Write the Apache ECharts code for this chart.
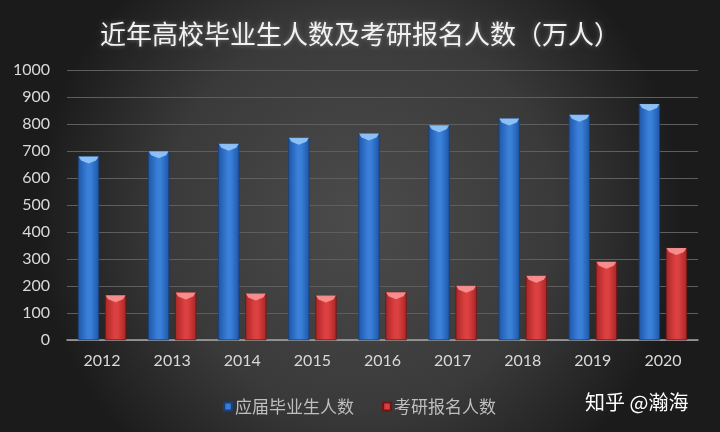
<!DOCTYPE html>
<html><head><meta charset="utf-8">
<script src="https://cdn.jsdelivr.net/npm/echarts@6/dist/echarts.min.js"></script>
<style>html,body{margin:0;padding:0;background:#2a2a2a}#c{width:720px;height:432px}</style>
</head><body><div id="c"></div>
<script>
const years = ['2012','2013','2014','2015','2016','2017','2018','2019','2020'];
const graduates = [680, 699, 727, 749, 765, 795, 820, 834, 874];
const applicants = [166, 176, 172, 165, 177, 201, 238, 290, 341];
const yTicks = [0, 100, 200, 300, 400, 500, 600, 700, 800, 900, 1000];

const chart = echarts.init(document.getElementById('c'));
const hGrad = (edge, mid) => ({type:'linear',x:0,y:0,x2:1,y2:0,colorStops:[
  {offset:0,color:edge},{offset:0.45,color:mid},{offset:0.6,color:mid},{offset:1,color:edge}]});
const BW = 21, GAP = 6;
function bevel(side, color) {
  return function (params, api) {
    const p = api.coord([api.value(0), api.value(1)]);
    const cx = p[0] + side * (BW + GAP) / 2;
    const half = BW / 2;
    return {type:'polygon', shape:{points:[[cx-half+0.5,p[1]],[cx+half-0.5,p[1]],[cx+half-3,p[1]+4],[cx,p[1]+7],[cx-half+3,p[1]+4]]},
      style:{fill:color}, silent:true};
  };
}
chart.setOption({
  backgroundColor: {type:'radial',x:0.5,y:0.5,r:0.75,colorStops:[
    {offset:0,color:'#4b4b4b'},{offset:0.6,color:'#3a3a3a'},{offset:1,color:'#1b1b1b'}]},
  title: {
    text: '近年高校毕业生人数及考研报名人数（万人）',
    left: 'center', top: 16,
    textStyle: {color:'#f2f2f2', fontSize:26, fontWeight:'normal', fontFamily:'Noto Sans CJK SC',
      textShadowColor:'rgba(255,255,255,0.35)', textShadowBlur:4}
  },
  legend: {
    data: ['应届毕业生人数','考研报名人数'],
    left: 218, top: 393,
    itemWidth: 8, itemHeight: 8, itemGap: 28,
    icon: 'rect',
    textStyle: {color:'#bfbfbf', fontSize:17, fontFamily:'Noto Sans CJK SC', padding:[0,0,0,-2]}
  },
  graphic: [{type:'text', left:585, top:392, style:{text:'知乎 @瀚海', fill:'#ffffff', fontSize:20, fontFamily:'Noto Sans CJK SC'}}],
  grid: {left:67, right:22, top:70, bottom:92},
  xAxis: {
    type:'category', data: years,
    axisLine:{lineStyle:{color:'#a6a6a6', width:1.5}},
    axisTick:{show:false},
    axisLabel:{color:'#d9d9d9', fontSize:16, fontFamily:'Lato', margin:13}
  },
  yAxis: {
    type:'value', min: yTicks[0], max: yTicks[yTicks.length-1], interval: 100,
    axisLine:{show:false}, axisTick:{show:false},
    axisLabel:{color:'#d9d9d9', fontSize:16, fontFamily:'Lato', margin:17, formatter: v => String(v)},
    splitLine:{lineStyle:{color:'#5e5e5e', width:1}}
  },
  series: [
    {name:'应届毕业生人数', type:'bar', data: graduates, barWidth:BW, barGap:'29%',
     itemStyle:{color: hGrad('#1d56a8','#3a80d8'), borderColor:'#1a3f78', borderWidth:0.5}},
    {name:'考研报名人数', type:'bar', data: applicants, barWidth:BW, barGap:'29%',
     itemStyle:{color: hGrad('#a82626','#dd4040'), borderColor:'#6e1717', borderWidth:0.5}},
    {type:'custom', data: years.map((y,i)=>[i, graduates[i]]), renderItem: bevel(-1, 'rgba(150,200,250,0.9)'), z:5, silent:true, tooltip:{show:false}},
    {type:'custom', data: years.map((y,i)=>[i, applicants[i]]), renderItem: bevel(1, 'rgba(250,150,150,0.9)'), z:5, silent:true, tooltip:{show:false}}
  ]
});
</script></body></html>
